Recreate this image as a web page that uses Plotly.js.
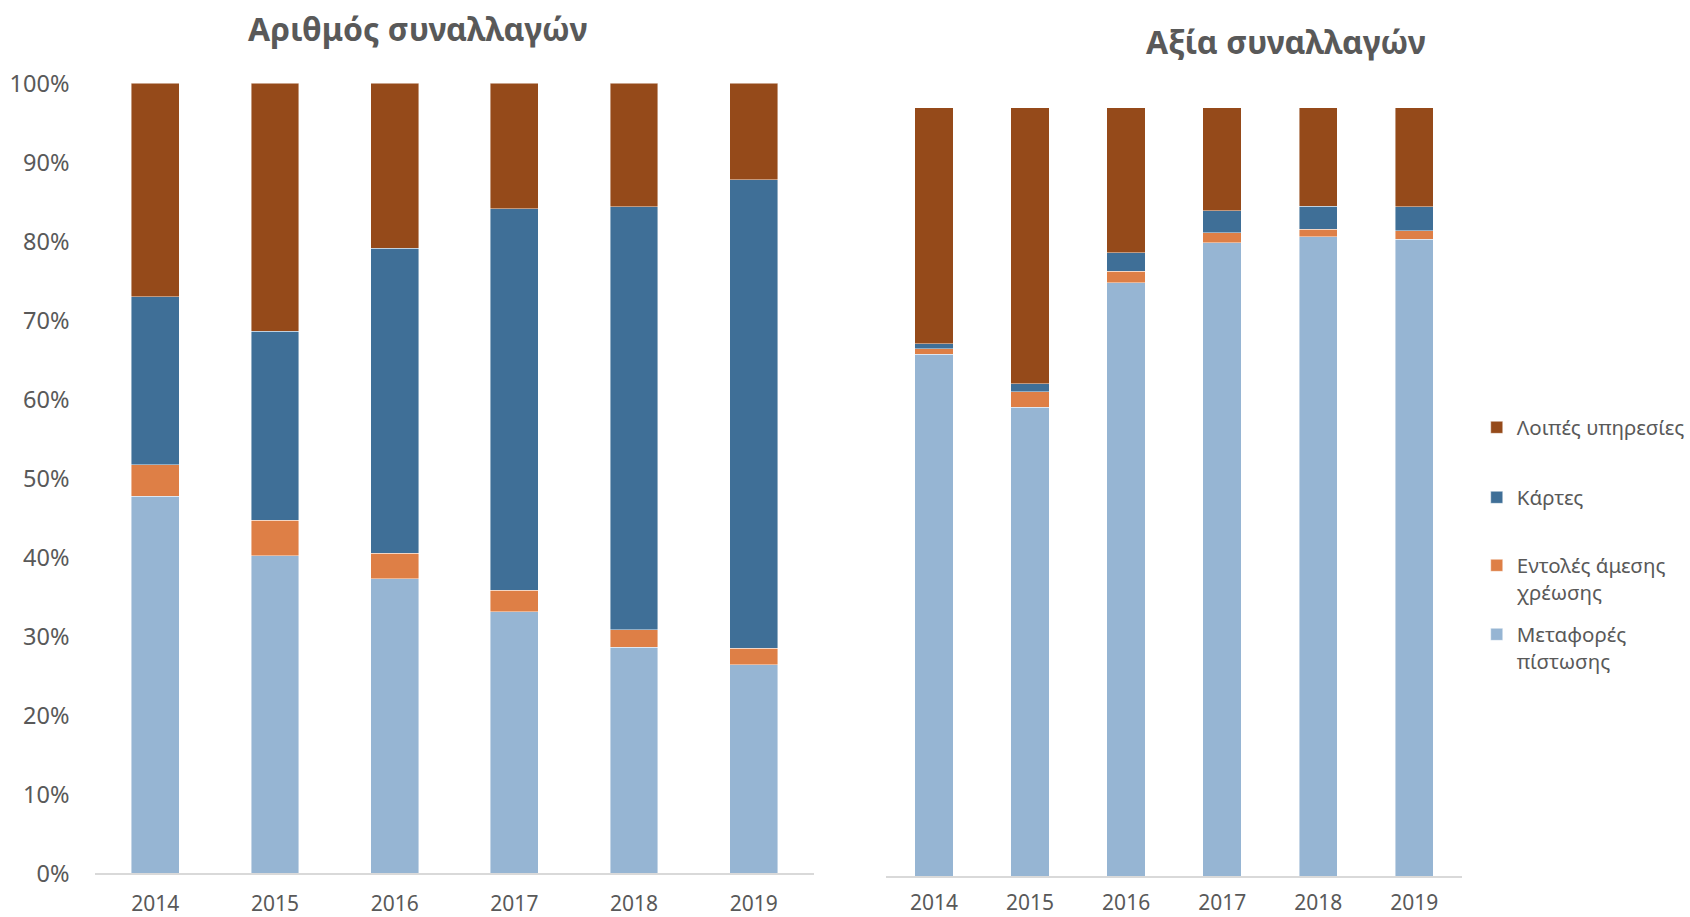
<!DOCTYPE html>
<html>
<head>
<meta charset="utf-8">
<script src="https://cdn.plot.ly/plotly-3.0.1.min.js"></script>
<style>
html,body{margin:0;padding:0;background:#fff;}
#chart{width:1690px;height:917px;}
</style>
</head>
<body>
<div id="chart"></div>
<script>
// ---- Data (percent shares) ----
const years = ['2014', '2015', '2016', '2017', '2018', '2019'];
const seriesNames = ['Μεταφορές<br>πίστωσης', 'Εντολές άμεσης<br>χρέωσης', 'Κάρτες', 'Λοιπές υπηρεσίες'];

// Αριθμός συναλλαγών (number of transactions)
const countCredit = [47.7, 40.2, 37.3, 33.1, 28.6, 26.4];
const countDebit  = [4.0, 4.5, 3.2, 2.7, 2.2, 2.1];
const countCards  = [21.3, 23.9, 38.6, 48.3, 53.6, 59.3];
const countOther  = [27.0, 31.4, 20.9, 15.9, 15.6, 12.2];

// Αξία συναλλαγών (value of transactions)
const valueCredit = [67.9, 61.0, 77.2, 82.4, 83.2, 82.9];
const valueDebit  = [0.7, 2.0, 1.5, 1.3, 1.0, 1.1];
const valueCards  = [0.7, 1.1, 2.4, 2.9, 3.0, 3.1];
const valueOther  = [30.7, 35.9, 18.9, 13.4, 12.8, 12.9];

const yTicks = [0, 10, 20, 30, 40, 50, 60, 70, 80, 90, 100];

// ---- Styling ----
const colors = ['#96B5D3', '#DE7F46', '#3F6F97', '#954A1A'];
const textGray = '#595959';
const W = 1690, H = 917;
const px = v => v / W;
const py = v => 1 - v / H;

const countSeries = [countCredit, countDebit, countCards, countOther];
const valueSeries = [valueCredit, valueDebit, valueCards, valueOther];
const legendIds = ['legend4', 'legend3', 'legend2', 'legend'];

const traces = [];
countSeries.forEach((vals, i) => {
  traces.push({
    type: 'bar', x: years, y: vals, name: seriesNames[i],
    xaxis: 'x', yaxis: 'y', showlegend: false,
    marker: {color: colors[i], line: {color: 'rgba(255,255,255,0.55)', width: 0.8}},
    hoverinfo: 'x+y'
  });
});
valueSeries.forEach((vals, i) => {
  traces.push({
    type: 'bar', x: years, y: vals, name: seriesNames[i],
    xaxis: 'x2', yaxis: 'y2', showlegend: true, legend: legendIds[i],
    marker: {color: colors[i], line: {color: 'rgba(255,255,255,0.55)', width: 0.8}},
    hoverinfo: 'x+y'
  });
});

const legendFont = {family: 'Noto Sans, sans-serif', size: 20.5, color: textGray};
function legendAt(yTop) {
  return {x: px(1482), xanchor: 'left', y: py(yTop), yanchor: 'top',
          font: legendFont, bgcolor: 'rgba(0,0,0,0)', borderwidth: 0,
          valign: 'top', itemclick: false, itemdoubleclick: false};
}

const tickFont = {family: 'Noto Sans, sans-serif', size: 21, color: textGray};

const layout = {
  width: W, height: H,
  margin: {l: 0, r: 0, t: 0, b: 0},
  paper_bgcolor: '#fff', plot_bgcolor: '#fff',
  barmode: 'stack', bargap: 0.6,
  font: {family: 'Noto Sans, sans-serif', color: textGray},
  xaxis: {
    domain: [px(95.8), px(816.5)], anchor: 'y', type: 'category',
    showline: true, linecolor: '#D9D9D9', linewidth: 2,
    ticks: '', showgrid: false, zeroline: false,
    tickfont: tickFont, ticklabelstandoff: 10
  },
  yaxis: {
    domain: [py(873.3), py(83.3)], anchor: 'x', range: [0, 100],
    tickvals: yTicks, ticktext: yTicks.map(v => v + '%'),
    showgrid: false, zeroline: false, showline: false, ticks: '',
    tickfont: {family: 'Noto Sans, sans-serif', size: 23.5, color: textGray},
    ticklabelstandoff: 25
  },
  xaxis2: {
    domain: [px(889.2), px(1467.5)], anchor: 'y2', type: 'category',
    showline: true, linecolor: '#D9D9D9', linewidth: 2,
    ticks: '', showgrid: false, zeroline: false,
    tickfont: tickFont, ticklabelstandoff: 7
  },
  yaxis2: {
    domain: [py(876), py(107.7)], anchor: 'x2', range: [0, 100],
    showgrid: false, zeroline: false, showline: false, ticks: '',
    showticklabels: false
  },
  legend: legendAt(407.5),
  legend2: legendAt(477.5),
  legend3: legendAt(545.5),
  legend4: legendAt(614.5),
  annotations: [
    {text: '<b>Αριθμός συναλλαγών</b>', xref: 'paper', yref: 'paper',
     x: px(419), y: py(28), xanchor: 'center', yanchor: 'middle', showarrow: false,
     font: {family: 'Noto Sans, sans-serif', size: 32, color: textGray}},
    {text: '<b>Αξία συναλλαγών</b>', xref: 'paper', yref: 'paper',
     x: px(1290.5), y: py(42), xanchor: 'center', yanchor: 'middle', showarrow: false,
     font: {family: 'Noto Sans, sans-serif', size: 32, color: textGray}}
  ]
};

Plotly.newPlot('chart', traces, layout, {displayModeBar: false, staticPlot: false});
</script>
</body>
</html>
